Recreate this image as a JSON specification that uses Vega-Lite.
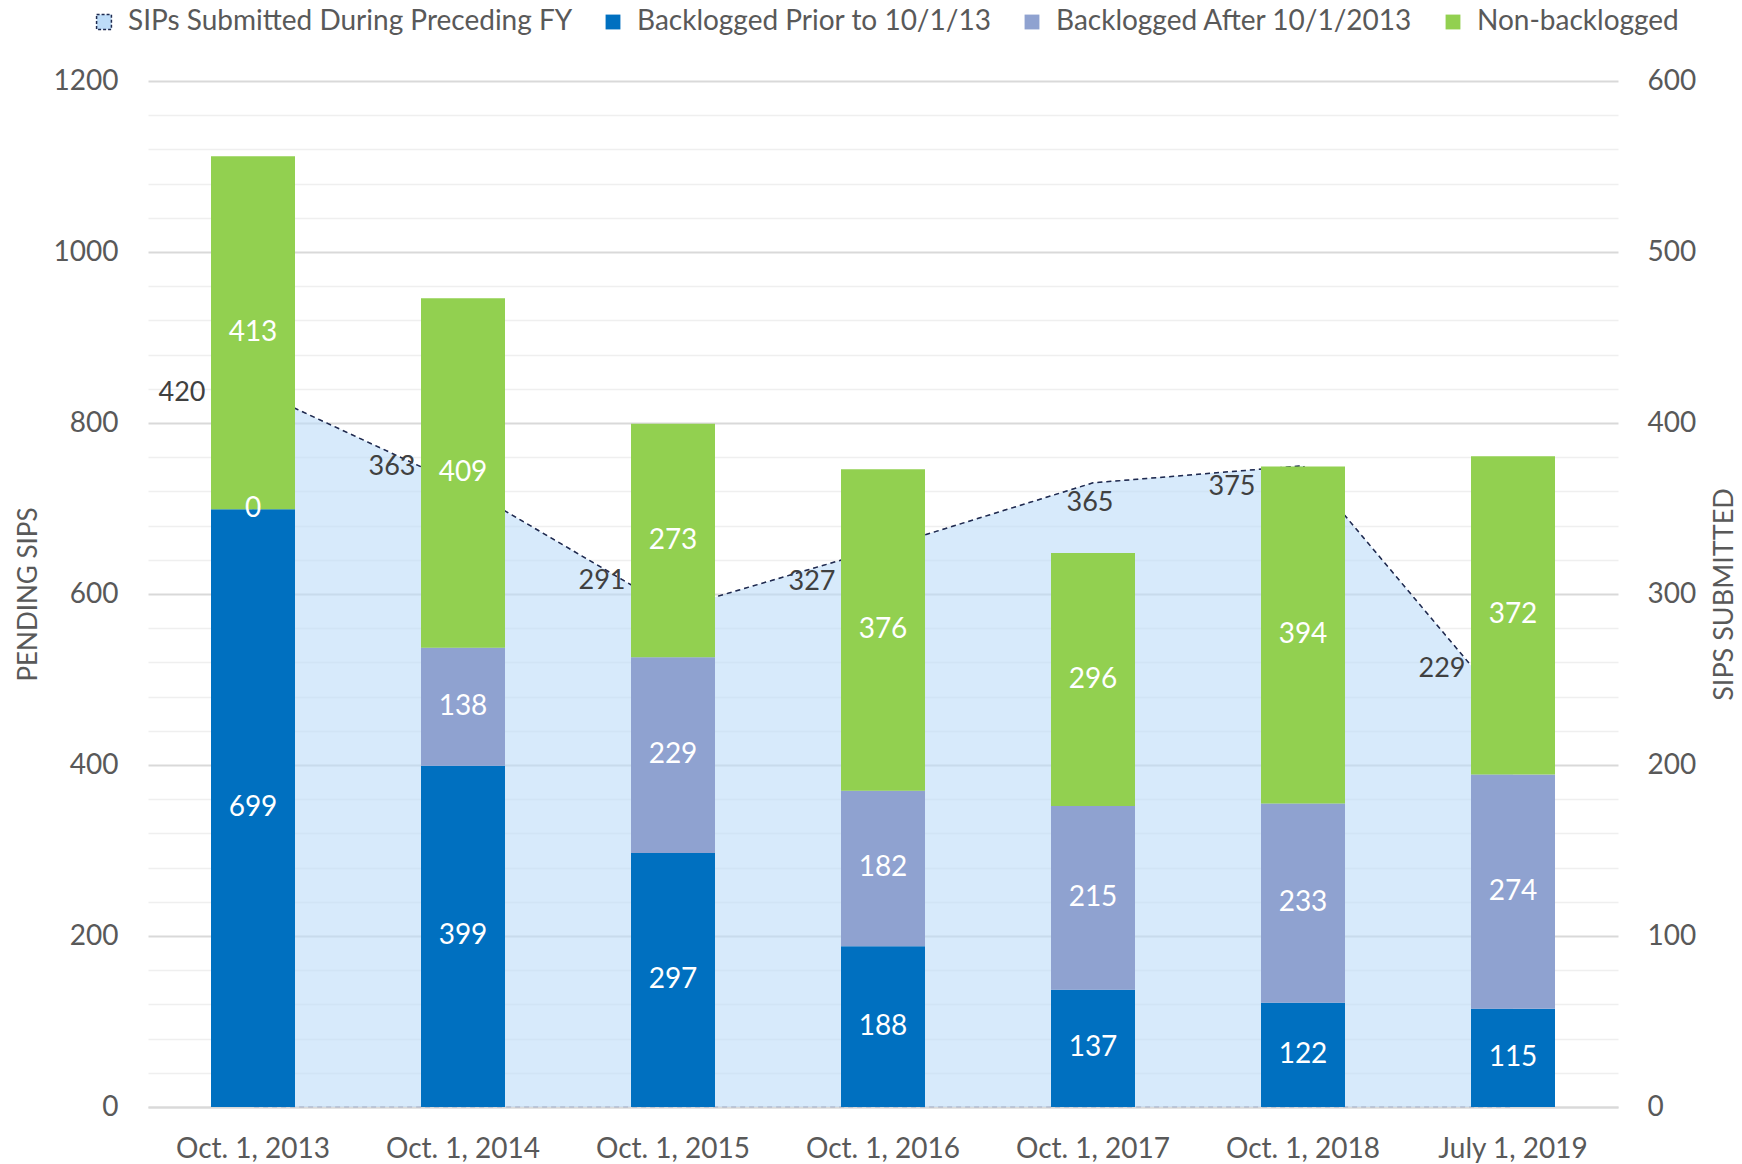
{
  "$schema": "https://vega.github.io/schema/vega-lite/v6.json",
  "width": 1470,
  "height": 1026,
  "autosize": {"type": "none"},
  "padding": {"left": 148, "top": 81, "right": 124, "bottom": 57},
  "background": "white",
  "config": {"font": "Lato", "view": {"stroke": null}, "axis": {"labelOverlap": false}},
  "datasets": {
    "sips": [
      {"date": "Oct. 1, 2013", "sips": 420},
      {"date": "Oct. 1, 2014", "sips": 363},
      {"date": "Oct. 1, 2015", "sips": 291},
      {"date": "Oct. 1, 2016", "sips": 327},
      {"date": "Oct. 1, 2017", "sips": 365},
      {"date": "Oct. 1, 2018", "sips": 375},
      {"date": "July 1, 2019", "sips": 229}
    ],
    "bars": [
      {"date": "Oct. 1, 2013", "series": "Backlogged Prior to 10/1/13", "k": 1, "value": 699},
      {"date": "Oct. 1, 2013", "series": "Backlogged After 10/1/2013", "k": 2, "value": 0},
      {"date": "Oct. 1, 2013", "series": "Non-backlogged", "k": 3, "value": 413},
      {"date": "Oct. 1, 2014", "series": "Backlogged Prior to 10/1/13", "k": 1, "value": 399},
      {"date": "Oct. 1, 2014", "series": "Backlogged After 10/1/2013", "k": 2, "value": 138},
      {"date": "Oct. 1, 2014", "series": "Non-backlogged", "k": 3, "value": 409},
      {"date": "Oct. 1, 2015", "series": "Backlogged Prior to 10/1/13", "k": 1, "value": 297},
      {"date": "Oct. 1, 2015", "series": "Backlogged After 10/1/2013", "k": 2, "value": 229},
      {"date": "Oct. 1, 2015", "series": "Non-backlogged", "k": 3, "value": 273},
      {"date": "Oct. 1, 2016", "series": "Backlogged Prior to 10/1/13", "k": 1, "value": 188},
      {"date": "Oct. 1, 2016", "series": "Backlogged After 10/1/2013", "k": 2, "value": 182},
      {"date": "Oct. 1, 2016", "series": "Non-backlogged", "k": 3, "value": 376},
      {"date": "Oct. 1, 2017", "series": "Backlogged Prior to 10/1/13", "k": 1, "value": 137},
      {"date": "Oct. 1, 2017", "series": "Backlogged After 10/1/2013", "k": 2, "value": 215},
      {"date": "Oct. 1, 2017", "series": "Non-backlogged", "k": 3, "value": 296},
      {"date": "Oct. 1, 2018", "series": "Backlogged Prior to 10/1/13", "k": 1, "value": 122},
      {"date": "Oct. 1, 2018", "series": "Backlogged After 10/1/2013", "k": 2, "value": 233},
      {"date": "Oct. 1, 2018", "series": "Non-backlogged", "k": 3, "value": 394},
      {"date": "July 1, 2019", "series": "Backlogged Prior to 10/1/13", "k": 1, "value": 115},
      {"date": "July 1, 2019", "series": "Backlogged After 10/1/2013", "k": 2, "value": 274},
      {"date": "July 1, 2019", "series": "Non-backlogged", "k": 3, "value": 372}
    ]
  },
  "encoding": {
    "x": {
      "field": "date", "type": "nominal", "sort": null,
      "scale": {"paddingInner": 0.6, "paddingOuter": 0.3},
      "axis": {"title": null, "labelAngle": 0, "ticks": false, "domain": true, "domainColor": "#D9D9D9", "domainWidth": 2, "labelPadding": 28, "labelFontSize": 28, "labelColor": "#595959", "grid": false}
    }
  },
  "layer": [
    {
      "data": {"name": "sips"},
      "layer": [
        {
          "mark": {"type": "area", "fillOpacity": 0.6, "stroke": "#A6AEC4", "strokeDash": [5, 4], "strokeWidth": 1.2},
          "encoding": {
            "y": {"field": "sips", "type": "quantitative", "scale": {"domain": [0, 600], "nice": false},
              "axis": {"orient": "right", "values": [0, 100, 200, 300, 400, 500, 600], "tickCount": 20, "format": "d", "labelOverlap": false, "grid": false, "ticks": false, "domain": false, "labelPadding": 29, "labelFontSize": 28, "labelColor": "#595959", "title": "SIPS SUBMITTED", "titleFontSize": 27, "titleFontWeight": "normal", "titleColor": "#595959", "titleX": 106, "titleY": 513, "titleAngle": 270, "titleBaseline": "middle", "titleAlign": "center"}},
            "color": {"datum": "SIPs Submitted During Preceding FY", "type": "nominal",
              "scale": {"domain": ["SIPs Submitted During Preceding FY", "Backlogged Prior to 10/1/13", "Backlogged After 10/1/2013", "Non-backlogged"], "range": ["#BDDCF8", "#0070C0", "#8FA2D0", "#92D050"]},
              "legend": {"orient": "none", "legendX": -58, "legendY": -73, "direction": "horizontal", "title": null, "symbolType": "square", "symbolSize": 220, "labelFontSize": 28, "labelLimit": 0, "labelColor": "#595959", "columnPadding": 26, "labelOffset": 10,
                "encode": {"symbols": {"update": {
                  "fill": {"signal": "datum.value === 'SIPs Submitted During Preceding FY' ? '#D6E8FA' : scale('color', datum.value)"},
                  "stroke": {"signal": "datum.value === 'SIPs Submitted During Preceding FY' ? '#1F2A4F' : 'transparent'"},
                  "strokeDash": {"signal": "datum.value === 'SIPs Submitted During Preceding FY' ? [3, 2] : [1, 0]"},
                  "strokeWidth": {"value": 1.5}, "opacity": {"value": 1}, "fillOpacity": {"value": 1}}}}}
            }
          }
        },
        {
          "mark": {"type": "line", "color": "#1F2A4F", "strokeDash": [5, 4], "strokeWidth": 1.5},
          "encoding": {"y": {"field": "sips", "type": "quantitative"}}
        },
        {
          "mark": {"type": "text", "fontSize": 27, "color": "#404040", "align": "center", "baseline": "middle",
            "dx": {"expr": "datum.date === 'Oct. 1, 2017' ? -3 : -71"},
            "dy": {"expr": "[4, -19, -28, 34, 20, 21, -46][indexof(['Oct. 1, 2013', 'Oct. 1, 2014', 'Oct. 1, 2015', 'Oct. 1, 2016', 'Oct. 1, 2017', 'Oct. 1, 2018', 'July 1, 2019'], datum.date)]"}},
          "encoding": {"y": {"field": "sips", "type": "quantitative"}, "text": {"field": "sips", "type": "quantitative"}}
        }
      ]
    },
    {
      "data": {"name": "bars"},
      "transform": [
        {"stack": "value", "groupby": ["date"], "sort": [{"field": "k", "order": "ascending"}], "as": ["v0", "v1"]},
        {"calculate": "(datum.v0 + datum.v1) / 2", "as": "mid"}
      ],
      "layer": [
        {
          "mark": {"type": "bar"},
          "encoding": {
            "y": {"field": "v0", "type": "quantitative", "scale": {"domain": [0, 1200], "nice": false},
              "axis": {"orient": "left", "values": [0, 40, 80, 120, 160, 200, 240, 280, 320, 360, 400, 440, 480, 520, 560, 600, 640, 680, 720, 760, 800, 840, 880, 920, 960, 1000, 1040, 1080, 1120, 1160, 1200],
                "tickCount": 100,
                "format": "d",
                "labelExpr": "datum.value % 200 === 0 ? datum.label : ''",
                "labelOverlap": false,
                "labelBound": false,
                "grid": true,
                "gridColor": {"condition": {"test": "datum.value % 200 === 0", "value": "#D9D9D9"}, "value": "#EFEFEF"},
                "gridWidth": {"condition": {"test": "datum.value % 200 === 0", "value": 2}, "value": 1.5},
                "ticks": false, "domain": false, "labelPadding": 30, "labelFontSize": 28, "labelColor": "#595959",
                "title": "PENDING SIPS", "titleFontSize": 26, "titleFontWeight": "normal", "titleColor": "#595959", "titleX": -120, "titleY": 513, "titleAngle": 270, "titleBaseline": "middle", "titleAlign": "center"}},
            "y2": {"field": "v1"},
            "color": {"field": "series", "type": "nominal",
              "scale": {"domain": ["SIPs Submitted During Preceding FY", "Backlogged Prior to 10/1/13", "Backlogged After 10/1/2013", "Non-backlogged"], "range": ["#BDDCF8", "#0070C0", "#8FA2D0", "#92D050"]},
              "legend": {"orient": "none", "legendX": -58, "legendY": -73, "direction": "horizontal", "title": null, "symbolType": "square", "symbolSize": 220, "labelFontSize": 28, "labelLimit": 0, "labelColor": "#595959", "columnPadding": 26, "labelOffset": 10,
                "encode": {"symbols": {"update": {
                  "fill": {"signal": "datum.value === 'SIPs Submitted During Preceding FY' ? '#D6E8FA' : scale('color', datum.value)"},
                  "stroke": {"signal": "datum.value === 'SIPs Submitted During Preceding FY' ? '#1F2A4F' : 'transparent'"},
                  "strokeDash": {"signal": "datum.value === 'SIPs Submitted During Preceding FY' ? [3, 2] : [1, 0]"},
                  "strokeWidth": {"value": 1.5}, "opacity": {"value": 1}, "fillOpacity": {"value": 1}}}}}
            }
          }
        },
        {
          "mark": {"type": "text", "fontSize": 28, "color": "white", "align": "center", "baseline": "middle"},
          "encoding": {"y": {"field": "mid", "type": "quantitative"}, "text": {"field": "value", "type": "quantitative"}}
        }
      ]
    }
  ],
  "resolve": {"scale": {"y": "independent"}}
}
